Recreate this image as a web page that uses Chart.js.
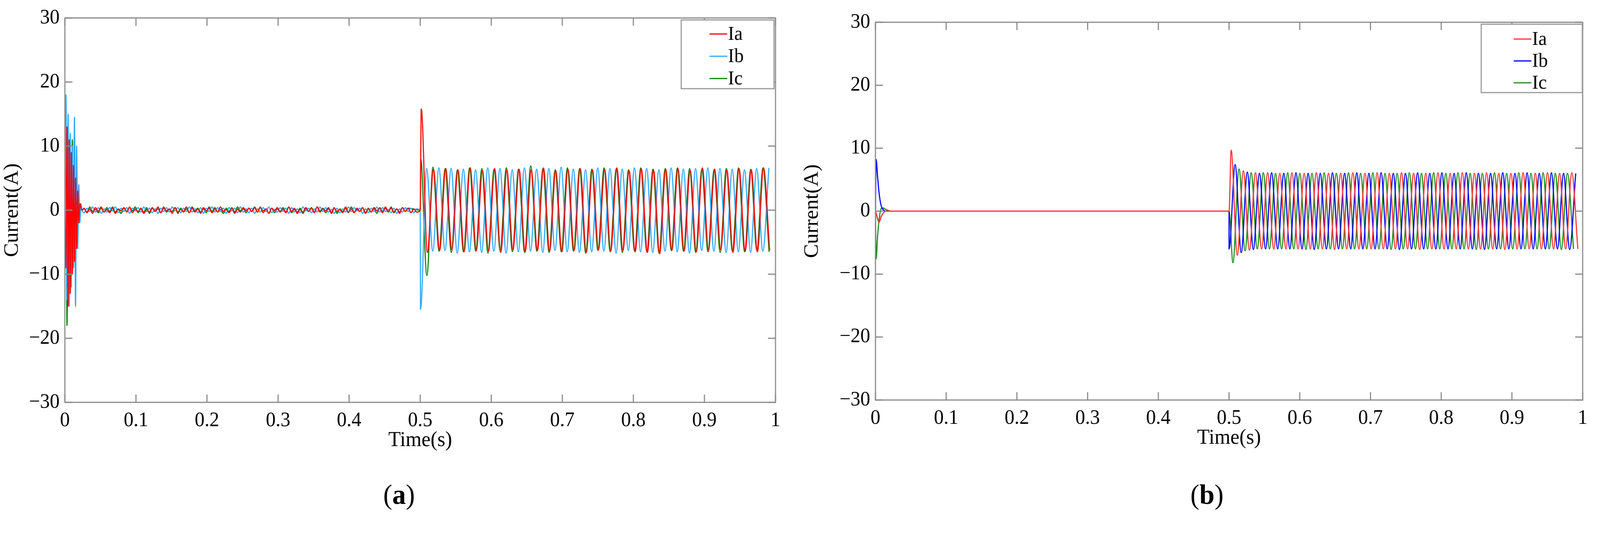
<!DOCTYPE html>
<html><head><meta charset="utf-8">
<script src="https://cdn.jsdelivr.net/npm/chart.js@4/dist/chart.umd.min.js"></script>
<style>
html,body{margin:0;padding:0;background:#fff;overflow:hidden;font-family:"Liberation Serif",serif}
#root{position:absolute;left:0;top:0;width:4242px;height:1367px;transform-origin:0 0}
.wrap{position:absolute;top:0;width:2121px;height:1367px}
.cap{position:absolute;top:1225px;font-size:72px;font-family:"Liberation Serif",serif;transform:translateX(-50%)}
</style></head><body>
<div id="root">
<div class="wrap" style="left:0"><canvas id="ca" width="2121" height="1367"></canvas></div>
<div class="wrap" style="left:2121px"><canvas id="cb" width="2121" height="1367"></canvas></div>
<div class="cap" style="left:1058px">(<b>a</b>)</div>
<div class="cap" style="left:3200px">(<b>b</b>)</div>
</div>
<script>
const root=document.getElementById('root');
root.style.transform='scale('+(window.innerWidth/4242)+','+(window.innerHeight/1367)+')';
// ---- data ----
const seriesNames = ["Ia","Ib","Ic"];
const yTicks = [-30,-20,-10,0,10,20,30];
const xTicks = [0,0.1,0.2,0.3,0.4,0.5,0.6,0.7,0.8,0.9,1];
// chart (a) start-up transient, times
const startTimesA = [0,0.0015,0.003,0.0045,0.006,0.0075,0.009,0.0105,0.012,0.0135,0.015,0.0165,0.018,0.0195,0.021,0.0225,0.024];
const startIaA = [0,-9,13,-15,11,-13,9,-10,7,-8,5,-6,3,-2,1,0.5,0];
const startIbA = [0,18,-14,15,-15,12,-12,10,-9,14.5,-15,10,-6,4,-2,1,0];
const startIcA = [0,13,-18,10,-12,8,-10,11,-9,11.5,-9,7,-5,3,-1,0.5,0];
// chart (a) no-load noise 0.028..0.5 (sampled every 0.004 s)
const noiseIaA = [0.3,-0.4,0.2,-0.5,0.4,-0.2,0.5,-0.3,0.1,-0.4,0.3,-0.5,0.2,-0.1,0.4,-0.3,0.5,-0.4,0.2,-0.2,0.3,-0.5,0.1,-0.3,0.4,-0.2,0.5,-0.4,0.3,-0.1,0.2,-0.5,0.4,-0.3,0.1,-0.2,0.5,-0.4,0.3,-0.3,0.2,-0.5,0.4,-0.1,0.3,-0.4,0.2,-0.3,0.5,-0.2,0.1,-0.4,0.3,-0.5,0.2,-0.3,0.4,-0.1,0.3,-0.2,0.4,-0.3,0.5,-0.4,0.2,-0.5,0.3,-0.1,0.4,-0.3,0.2,-0.4,0.5,-0.2,0.3,-0.5,0.1,-0.3,0.4,-0.2,0.3,-0.4,0.5,-0.3,0.2,-0.1,0.4,-0.5,0.3,-0.2,0.1,-0.4,0.5,-0.3,0.2,-0.4,0.3,-0.2,0.4,-0.5,0.2,-0.3,0.4,-0.1,0.3,-0.4,0.5,-0.2,0.3,-0.3,0.2,-0.5,0.4,-0.2,0.3,-0.4,0.2,-0.3];
const noiseIbA = [-0.4,0.3,-0.2,0.5,-0.3,0.4,-0.5,0.2,-0.3,0.4,-0.1,0.5,-0.4,0.3,-0.2,0.4,-0.5,0.3,-0.1,0.4,-0.3,0.5,-0.2,0.3,-0.4,0.2,-0.5,0.3,-0.2,0.4,-0.3,0.5,-0.1,0.4,-0.4,0.3,-0.2,0.5,-0.3,0.2,-0.4,0.4,-0.5,0.3,-0.2,0.5,-0.3,0.4,-0.2,0.3,-0.5,0.4,-0.1,0.3,-0.4,0.5,-0.3,0.2,-0.4,0.3,-0.5,0.2,-0.3,0.4,-0.2,0.5,-0.4,0.1,-0.3,0.4,-0.2,0.3,-0.5,0.4,-0.3,0.2,-0.4,0.5,-0.1,0.3,-0.4,0.2,-0.3,0.5,-0.2,0.4,-0.3,0.1,-0.5,0.3,-0.4,0.2,-0.3,0.5,-0.2,0.4,-0.1,0.3,-0.5,0.2,-0.4,0.3,-0.2,0.5,-0.3,0.4,-0.2,0.1,-0.4,0.3,-0.5,0.2,-0.3,0.4,-0.2,0.3,-0.4,0.2];
const noiseIcA = [0.2,-0.3,0.5,-0.2,0.1,-0.4,0.3,-0.3,0.4,-0.2,0.5,-0.3,0.1,-0.5,0.3,-0.2,0.4,-0.1,0.5,-0.4,0.2,-0.3,0.4,-0.5,0.3,-0.1,0.2,-0.4,0.5,-0.3,0.1,-0.2,0.4,-0.5,0.3,-0.3,0.2,-0.4,0.5,-0.1,0.3,-0.3,0.2,-0.4,0.5,-0.2,0.4,-0.3,0.1,-0.5,0.3,-0.2,0.4,-0.3,0.5,-0.1,0.2,-0.4,0.3,-0.2,0.5,-0.3,0.4,-0.1,0.2,-0.5,0.3,-0.4,0.2,-0.2,0.4,-0.3,0.5,-0.4,0.1,-0.3,0.3,-0.5,0.2,-0.2,0.4,-0.3,0.5,-0.1,0.3,-0.4,0.2,-0.3,0.4,-0.5,0.2,-0.2,0.3,-0.4,0.5,-0.3,0.1,-0.2,0.4,-0.4,0.3,-0.3,0.2,-0.5,0.4,-0.2,0.3,-0.3,0.5,-0.4,0.2,-0.3,0.4,-0.2,0.3];
// chart (a) loaded: successive half-cycle peaks
const peaksIaA = [15.8,-6.6,6.4,-6.3,6.5,-6.2,6.3,-6.5,6.6,-6.3,6.2,-6.4,6.5,-6.6,6.3,-6.2,6.4,-6.5,6.3,-6.3,6.6,-6.4,6.2,-6.5,6.4,-6.3,6.5,-6.6,6.3,-6.2,6.4,-6.4,6.6,-6.3,6.2,-6.5,6.5,-6.6,6.3,-6.8,6.4,-6.3,6.5,-6.4,6.2,-6.5,6.6,-6.3,6.4,-6.2,6.3,-6.6,6.5,-6.4,6.3,-6.5,6.6,-6.3];
const peaksIbA = [-15.5,6.5,-6.4,6.6,-6.3,6.5,-6.7,6.4,-6.5,6.3,-6.6,6.6,-6.4,6.5,-6.7,6.3,-6.5,6.6,-6.4,6.4,-6.6,6.5,-6.3,6.7,-6.5,6.4,-6.6,6.3,-6.5,6.6,-6.4,6.5,-6.7,6.4,-6.3,6.6,-6.5,6.5,-6.6,6.3,-6.4,6.6,-6.5,6.4,-6.7,6.5,-6.3,6.6,-6.4,6.5,-6.6,6.4,-6.5,6.3,-6.6,6.5,-6.4,6.6];
const peaksIcA = [8.0,-10.2,6.7,-6.4,6.5,-6.6,6.3,-6.5,6.6,-6.4,6.5,-6.7,6.4,-6.3,6.6,-6.5,6.4,-6.6,6.9,-6.4,6.5,-6.6,6.3,-6.5,6.6,-6.4,6.5,-6.7,6.4,-6.3,6.6,-6.5,6.5,-6.6,6.3,-6.4,6.6,-6.5,6.4,-6.7,6.5,-6.3,6.6,-6.4,6.5,-6.6,6.4,-6.5,6.3,-6.6,6.5,-6.4,6.6,-6.5,6.4,-6.3,6.6,-6.5];
const peakStartA = [0.5015,0.5005,0.5008];
// chart (b)
const startTimesB = [0,0.001,0.003,0.005,0.008,0.011,0.014,0.018,0.022];
const startIaB = [0,-0.3,-1.2,-1.8,-0.9,-0.3,0,0,0];
const startIbB = [0,8.2,5.5,3.0,0.9,0.2,0,0,0];
const startIcB = [0,-7.6,-4.0,-1.5,0.4,0.5,0.3,0.1,0];
const peaksIaB = [9.7,-7.0,6.4,-6.2,6.1,-6.0,6.1,-6.0,6.0,-6.0,6.1,-6.0,6.0,-6.0,6.1,-6.0,6.0,-6.1,6.0,-6.0,6.1,-6.0,6.0,-6.0,6.1,-6.0,6.0,-6.0,6.1,-6.0,6.0,-6.1,6.0,-6.0,6.1,-6.0,6.0,-6.0,6.1,-6.0,6.0,-6.0,6.1,-6.0,6.0,-6.1,6.0,-6.0,6.1,-6.0,6.0,-6.0,6.1,-6.0,6.0,-6.0,6.1,-6.0];
const peaksIbB = [-6.0,7.4,-6.6,6.2,-6.1,6.0,-6.0,6.1,-6.0,6.0,-6.0,6.1,-6.0,6.0,-6.1,6.0,-6.0,6.1,-6.0,6.0,-6.0,6.1,-6.0,6.0,-6.0,6.1,-6.0,6.0,-6.1,6.0,-6.0,6.1,-6.0,6.0,-6.0,6.1,-6.0,6.0,-6.0,6.1,-6.0,6.0,-6.1,6.0,-6.0,6.1,-6.0,6.0,-6.0,6.1,-6.0,6.0,-6.0,6.1,-6.0,6.0,-6.1,6.0];
const peaksIcB = [-8.2,6.7,-6.3,6.1,-6.0,6.1,-6.0,6.0,-6.0,6.1,-6.0,6.0,-6.1,6.0,-6.0,6.1,-6.0,6.0,-6.0,6.1,-6.0,6.0,-6.0,6.1,-6.0,6.0,-6.1,6.0,-6.0,6.1,-6.0,6.0,-6.0,6.1,-6.0,6.0,-6.0,6.1,-6.0,6.0,-6.1,6.0,-6.0,6.1,-6.0,6.0,-6.0,6.1,-6.0,6.0,-6.0,6.1,-6.0,6.0,-6.1,6.0,-6.0];
const peakStartB = [0.503,0.5,0.5055];
const halfPeriod = 0.0086;
const noiseStart = 0.027, noiseStep = 0.004;

// ---- build point lists ----
function build(st, sv, noise, pStart, peaks){
  const pts = st.map((t,i)=>({x:t,y:sv[i]}));
  if(noise){ noise.forEach((v,i)=>{const t=noiseStart+i*noiseStep; if(t<0.499) pts.push({x:t,y:v});}); }
  else pts.push({x:0.499,y:0});
  pts.push({x:0.5,y:0});
  peaks.forEach((v,i)=>{const t=pStart+i*halfPeriod; if(t<=1.004) pts.push({x:t,y:v});});
  return pts;
}
const dataA = [
  build(startTimesA,startIaA,noiseIaA,peakStartA[0],peaksIaA),
  build(startTimesA,startIbA,noiseIbA,peakStartA[1],peaksIbA),
  build(startTimesA,startIcA,noiseIcA,peakStartA[2],peaksIcA)];
const dataB = [
  build(startTimesB,startIaB,null,peakStartB[0],peaksIaB),
  build(startTimesB,startIbB,null,peakStartB[1],peaksIbB),
  build(startTimesB,startIcB,null,peakStartB[2],peaksIcB)];

const FONT = "'Liberation Serif', serif";
const boxPlugin = {
  id:'box',
  afterDraw(chart, args, o){
    const {ctx, chartArea:a, scales} = chart;
    ctx.save();
    ctx.strokeStyle='#8a8a8a'; ctx.lineWidth=3;
    ctx.strokeRect(a.left,a.top,a.right-a.left,a.bottom-a.top);
    const L=20;
    ctx.beginPath();
    xTicks.forEach(v=>{const x=scales.x.getPixelForValue(v);
      ctx.moveTo(x,a.bottom);ctx.lineTo(x,a.bottom-L);ctx.moveTo(x,a.top);ctx.lineTo(x,a.top+L);});
    yTicks.forEach(v=>{const y=scales.y.getPixelForValue(v);
      ctx.moveTo(a.left,y);ctx.lineTo(a.left+L,y);ctx.moveTo(a.right,y);ctx.lineTo(a.right-L,y);});
    ctx.stroke();
    const lg=o.legend;
    ctx.fillStyle='#fff'; ctx.fillRect(lg.x,lg.y,lg.w,lg.h);
    ctx.strokeStyle='#9a9a9a'; ctx.lineWidth=3; ctx.strokeRect(lg.x,lg.y,lg.w,lg.h);
    ctx.font="50px "+FONT; ctx.textBaseline='middle'; ctx.textAlign='left';
    chart.data.datasets.forEach((ds,i)=>{
      const y=lg.y+lg.r0+i*lg.dr;
      ctx.strokeStyle=ds.borderColor; ctx.lineWidth=3;
      ctx.beginPath(); ctx.moveTo(lg.lx,y); ctx.lineTo(lg.lx+47,y); ctx.stroke();
      ctx.fillStyle='#000'; ctx.fillText(ds.label,lg.lx+49,y+2);
    });
    ctx.restore();
  }
};
function make(id, data, colors, pad, yW, legend){
  new Chart(document.getElementById(id),{
    type:'line',
    data:{datasets:data.map((d,i)=>({label:seriesNames[i],data:d,borderColor:colors[i],borderWidth:3,
      pointRadius:0,cubicInterpolationMode:'monotone',fill:false}))},
    options:{
      responsive:false,animation:false,parsing:false,normalized:true,devicePixelRatio:1,
      layout:{padding:{top:pad.top,right:pad.right,left:0,bottom:1367-pad.bottom-130}},
      plugins:{legend:{display:false},tooltip:{enabled:false},box:{legend}},
      scales:{
        x:{type:'linear',min:0,max:1,
          afterBuildTicks:s=>{s.ticks=xTicks.map(v=>({value:v}));},
          afterFit:s=>{s.height=130;},
          grid:{display:false,drawTicks:false},border:{display:false},
          ticks:{font:{family:FONT,size:52},color:'#000',padding:16,maxRotation:0,callback:v=>String(Number(v.toFixed(1)))},
          title:{display:true,text:'Time(s)',font:{family:FONT,size:54},color:'#000',padding:{top:0,bottom:0}}},
        y:{min:-30,max:30,
          afterBuildTicks:s=>{s.ticks=yTicks.map(v=>({value:v}));},
          afterFit:s=>{s.width=yW;},
          grid:{display:false,drawTicks:false},border:{display:false},
          ticks:{font:{family:FONT,size:52},color:'#000',padding:14,callback:v=>String(v).replace('-','\u2212')},
          title:{display:true,text:'Current(A)',font:{family:FONT,size:54},color:'#000',padding:{top:0,bottom:4}}}
      }
    },
    plugins:[boxPlugin]
  });
}
make('ca',dataA,['#ff0000','#2aa8ff','#008000'],{top:46,right:65,bottom:1030},172,
  {x:1806,y:51,w:246,h:176,lx:1881,r0:36,dr:57});
make('cb',dataB,['#ff3030','#0000ff','#1a8a1a'],{top:57,right:46,bottom:1024},200,
  {x:1806,y:62,w:268,h:175,lx:1892,r0:38,dr:56});
</script></body></html>
